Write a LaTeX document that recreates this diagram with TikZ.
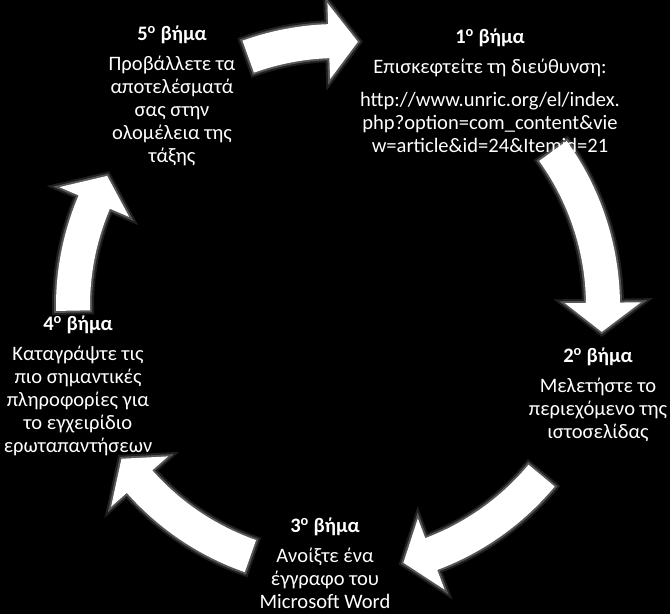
\documentclass[tikz,border=0pt]{standalone}
\usepackage{fontspec}
\setmainfont{Carlito}
\usetikzlibrary{positioning}

% white block arrow on the cycle: #1 tail angle, #2 tip angle
\newcommand{\cyclearrow}[2]{%
  \fill[cycarrow, shift={(cen)}]
    (#1:282) arc[start angle=#1, end angle=#2+6.3, radius=282]
    -- (#2+6.3:303) -- (#2:265) -- (#2+6.3:227) -- (#2+6.3:248)
    arc[start angle=#2+6.3, end angle=#1, radius=248] -- cycle;}

\begin{document}
\begin{tikzpicture}[x=0.75pt, y=0.75pt,
    font=\fontsize{15.4}{17.25}\selectfont,
    steptitle/.style={text=white, font=\fontsize{15.4}{17.25}\selectfont\bfseries,
                      inner sep=0pt},
    steptext/.style={text=white, align=center, inner sep=0pt, anchor=north},
    cycarrow/.style={fill=white,
                     preaction={draw=white, line width=6pt, opacity=0.12},
                     preaction={draw=white, line width=3pt, opacity=0.25}}]

% background
\fill[black] (0,0) rectangle (670,614);
\useasboundingbox (0,0) rectangle (670,614);

\coordinate (cen) at (338,308);

% Step titles
\node[steptitle] (t1) at (490,576) {1\textsuperscript{ο} βήμα};
\node[steptitle] (t2) at (598,257) {2\textsuperscript{ο} βήμα};
\node[steptitle] (t3) at (325,87)  {3\textsuperscript{ο} βήμα};
\node[steptitle] (t4) at (78,289)  {4\textsuperscript{ο} βήμα};
\node[steptitle] (t5) at (172,579) {5\textsuperscript{ο} βήμα};

% Step texts
\node[steptext, below=9pt of t1] (d1)
  {Επισκεφτείτε τη διεύθυνση:\\[7.5pt]
   http://www.unric.org/el/index.\\
   php?option=com\_content\&vie\\
   w=article\&id=24\&Itemid=21};
\node[steptext, below=9pt of t2] (d2)
  {Μελετήστε το\\περιεχόμενο της\\ιστοσελίδας};
\node[steptext, below=9pt of t3] (d3)
  {Ανοίξτε ένα\\έγγραφο του\\Microsoft Word};
\node[steptext, below=9pt of t4] (d4)
  {Καταγράψτε τις\\πιο σημαντικές\\πληροφορίες για\\το εγχειρίδιο\\ερωταπαντήσεων};
\node[steptext, below=9pt of t5] (d5)
  {Προβάλλετε τα\\αποτελέσματά\\σας στην\\ολομέλεια της\\τάξης};

% Cycle arrows (5 -> 1 -> 2 -> 3 -> 4 -> 5)
\cyclearrow{109.8}{85.7}
\cyclearrow{35.8}{-5.6}
\cyclearrow{-39.8}{-75.7}
\cyclearrow{-109.3}{-144.8}
\cyclearrow{181}{150.6}

\end{tikzpicture}
\end{document}
